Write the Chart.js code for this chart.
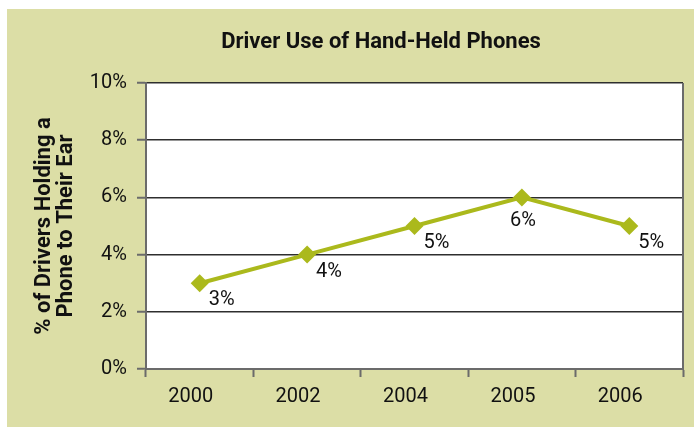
<!DOCTYPE html>
<html>
<head>
<meta charset="utf-8">
<script src="https://cdn.jsdelivr.net/npm/chart.js@4.4.1/dist/chart.umd.min.js"></script>
<style>
  html, body { margin: 0; padding: 0; background: #fff; }
  #wrap { width: 694px; height: 427px; }
</style>
</head>
<body>
<div id="wrap"><canvas id="chart" width="694" height="427"></canvas></div>
<script>
const years = ['2000', '2002', '2004', '2005', '2006'];
const phoneUse = [3, 4, 5, 6, 5];
const yMin = 0, yMax = 10, yStep = 2;
const chartTitle = 'Driver Use of Hand-Held Phones';
const yTitle = ['% of Drivers Holding a', 'Phone to Their Ear'];

const FONT = "Roboto, 'Liberation Sans', sans-serif";
const panelColor = '#dcdea6';
const lineColor = '#abb91c';

// green panel + white plot area
const background = {
    id: 'background',
    beforeDraw(chart) {
        const { ctx, chartArea: a } = chart;
        ctx.save();
        ctx.fillStyle = '#fff';
        ctx.fillRect(0, 0, chart.width, chart.height);
        ctx.fillStyle = panelColor;
        ctx.fillRect(7, 9, chart.width - 7, chart.height - 9);
        ctx.fillStyle = '#fff';
        ctx.fillRect(a.left, a.top, a.right - a.left, a.bottom - a.top);
        ctx.restore();
    },
    afterDraw(chart) {
        const { ctx, chartArea: a } = chart;
        ctx.save();
        // right border of plot
        ctx.strokeStyle = '#6b6b6b';
        ctx.lineWidth = 2;
        ctx.beginPath();
        ctx.moveTo(a.right, a.top);
        ctx.lineTo(a.right, a.bottom);
        ctx.stroke();
        // chart title
        ctx.fillStyle = '#111';
        ctx.font = 'bold 22px ' + FONT;
        ctx.textAlign = 'center';
        ctx.textBaseline = 'middle';
        ctx.fillText(chartTitle, 381, 42);
        ctx.restore();
    }
};

// value labels next to the markers
const valueLabels = {
    id: 'valueLabels',
    afterDatasetsDraw(chart) {
        const { ctx } = chart;
        const meta = chart.getDatasetMeta(0);
        const top = Math.max(...phoneUse);
        ctx.save();
        ctx.fillStyle = '#111';
        ctx.font = '20px ' + FONT;
        ctx.textBaseline = 'middle';
        meta.data.forEach((pt, i) => {
            const v = phoneUse[i];
            if (v === top) {
                ctx.textAlign = 'center';
                ctx.fillText(v + '%', pt.x + 1, pt.y + 24);
            } else {
                ctx.textAlign = 'left';
                ctx.fillText(v + '%', pt.x + 9, pt.y + 17);
            }
        });
        ctx.restore();
    }
};

new Chart(document.getElementById('chart'), {
    type: 'line',
    data: {
        labels: years,
        datasets: [{
            data: phoneUse,
            borderColor: lineColor,
            backgroundColor: lineColor,
            borderWidth: 4,
            pointStyle: 'rectRot',
            pointRadius: 9,
            pointHoverRadius: 9,
            pointBorderWidth: 0,
            tension: 0
        }]
    },
    options: {
        responsive: false,
        animation: false,
        events: [],
        layout: { padding: { left: 0, top: 83, right: 11, bottom: 0 } },
        plugins: {
            legend: { display: false },
            tooltip: { enabled: false },
            title: { display: false }
        },
        scales: {
            x: {
                offset: true,
                afterFit(s) { s.height = 58; },
                grid: {
                    offset: true,
                    drawOnChartArea: false,
                    tickLength: 8,
                    tickColor: '#6b6b6b',
                    tickWidth: 2
                },
                border: { color: '#6b6b6b', width: 2 },
                ticks: {
                    color: '#111',
                    font: { family: FONT, size: 20 },
                    padding: 8,
                    labelOffset: -9,
                    maxRotation: 0
                }
            },
            y: {
                min: yMin,
                max: yMax,
                afterFit(s) { s.width = 146; },
                grid: {
                    color: '#2e2e2e',
                    lineWidth: 1.5,
                    tickLength: 9,
                    tickColor: '#6b6b6b',
                    tickWidth: 2
                },
                border: { color: '#6b6b6b', width: 2 },
                ticks: {
                    stepSize: yStep,
                    color: '#111',
                    font: { family: FONT, size: 20 },
                    padding: 10,
                    callback: v => v + '%'
                },
                title: {
                    display: true,
                    text: yTitle,
                    color: '#111',
                    font: { family: FONT, size: 22, weight: 'bold', lineHeight: 0.98 },
                    padding: { top: 34, bottom: 0 }
                }
            }
        }
    },
    plugins: [background, valueLabels]
});
</script>
</body>
</html>
